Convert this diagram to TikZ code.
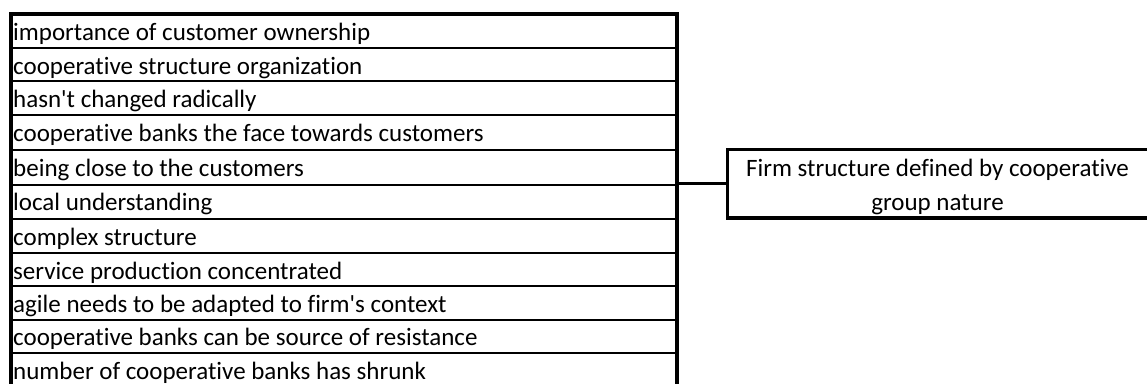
\documentclass[tikz,border=0pt]{standalone}
\usepackage{fontspec}
\setmainfont{Carlito}[RawFeature={-liga;-clig}]
\begin{document}
\begin{tikzpicture}[x=1pt,y=-1pt,
  rowtext/.style={anchor=base west, inner sep=0pt, font=\fontsize{25}{30}\selectfont},
  rowline/.style={line width=2pt, black},
  outerline/.style={line width=3.8pt, black},
  firmbox/.style={draw, line width=3.8pt, minimum width=428pt, minimum height=68.5pt, inner sep=0pt},
  firmtext/.style={align=center, inner sep=0pt, font=\fontsize{25}{33.5}\selectfont},
  conn/.style={line width=3pt, black}]
\useasboundingbox (0,0) rectangle (1147,383);
\clip (0,0) rectangle (1147,383);
\fill[white] (0,0) rectangle (1147,383);
% table frame
\node[minimum width=666pt, minimum height=372pt, inner sep=0pt, anchor=north west] (table) at (11,14) {};
\foreach \y in {47.5,81,115,150,184.5,219,253,286,319.5,353}
  \draw[rowline] (11,\y) -- (677,\y);
\draw[outerline] (11,390) -- (11,14) -- (677,14) -- (677,390);
% rows
\node[rowtext] (r1) at (13,40.5) {importance of customer ownership};
\node[rowtext] (r2) at (13,74) {cooperative structure organization};
\node[rowtext] (r3) at (13,107.5) {hasn\textquotesingle t changed radically};
\node[rowtext] (r4) at (13,141.5) {cooperative banks the face towards customers};
\node[rowtext] (r5) at (13,176) {being close to the customers};
\node[rowtext] (r6) at (13,210.5) {local understanding};
\node[rowtext] (r7) at (13,245) {complex structure};
\node[rowtext] (r8) at (13,279) {service production concentrated};
\node[rowtext] (r9) at (13,312) {agile needs to be adapted to firm\textquotesingle s context};
\node[rowtext] (r10) at (13,345.5) {cooperative banks can be source of resistance};
\node[rowtext] (r11) at (13,379) {number of cooperative banks has shrunk};
% right box (its right edge runs off the picture)
\node[firmbox] (firm) at (941.5,183.75) {};
\node[firmtext] (firmlabel) at (937.5,187.2) {Firm structure defined by cooperative\\group nature};
\draw[conn] (firm.west) -- (firm.west -| table.east);
\end{tikzpicture}
\end{document}
